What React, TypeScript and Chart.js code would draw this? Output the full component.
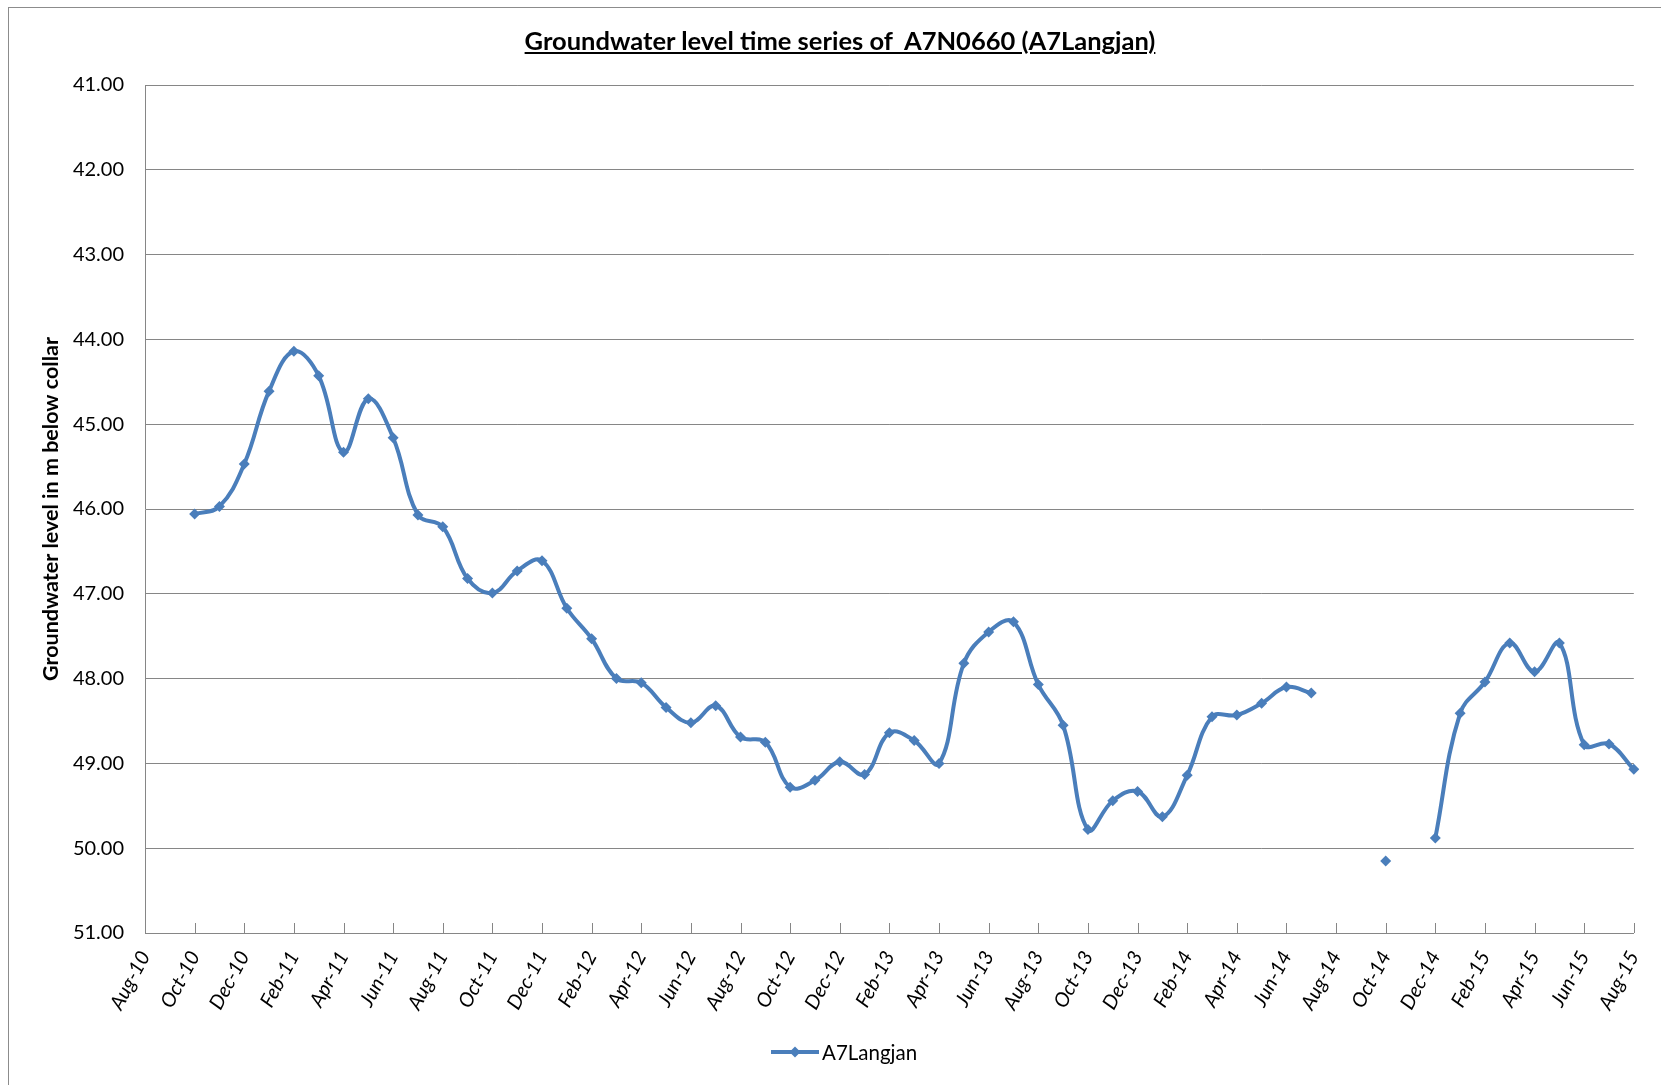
import React, { useEffect, useRef } from "react";
import { Chart, registerables } from "chart.js";

Chart.register(...registerables);

const months: string[] = [
  "Aug-10", "Sep-10", "Oct-10", "Nov-10", "Dec-10",
  "Jan-11", "Feb-11", "Mar-11", "Apr-11", "May-11", "Jun-11", "Jul-11", "Aug-11", "Sep-11", "Oct-11", "Nov-11", "Dec-11",
  "Jan-12", "Feb-12", "Mar-12", "Apr-12", "May-12", "Jun-12", "Jul-12", "Aug-12", "Sep-12", "Oct-12", "Nov-12", "Dec-12",
  "Jan-13", "Feb-13", "Mar-13", "Apr-13", "May-13", "Jun-13", "Jul-13", "Aug-13", "Sep-13", "Oct-13", "Nov-13", "Dec-13",
  "Jan-14", "Feb-14", "Mar-14", "Apr-14", "May-14", "Jun-14", "Jul-14", "Aug-14", "Sep-14", "Oct-14", "Nov-14", "Dec-14",
  "Jan-15", "Feb-15", "Mar-15", "Apr-15", "May-15", "Jun-15", "Jul-15", "Aug-15",
];

const levels2010: (number | null)[] = [null, null, 46.06, 45.97, 45.47];
const levels2011: (number | null)[] = [44.61, 44.14, 44.43, 45.33, 44.70, 45.16, 46.07, 46.21, 46.82, 46.99, 46.73, 46.61];
const levels2012: (number | null)[] = [47.17, 47.53, 48.00, 48.05, 48.34, 48.52, 48.32, 48.69, 48.75, 49.28, 49.20, 48.98];
const levels2013: (number | null)[] = [49.13, 48.64, 48.73, 49.00, 47.82, 47.45, 47.33, 48.07, 48.55, 49.78, 49.44, 49.33];
const levels2014: (number | null)[] = [49.63, 49.14, 48.45, 48.43, 48.29, 48.10, 48.17, null, null, 50.15, null, 49.88];
const levels2015: (number | null)[] = [48.41, 48.04, 47.58, 47.92, 47.58, 48.78, 48.77, 49.07];

const seriesName = "A7Langjan";
const titleText = "Groundwater level time series of  A7N0660 (A7Langjan)";
const yTitle = "Groundwater level in m below collar";
const yMin = 41;
const yMax = 51;

const LINE = "#4A7EBB";
const GRID = "#868686";
const FONT = "Lato, 'Open Sans', sans-serif";

export default function App() {
  const ref = useRef<HTMLCanvasElement | null>(null);

  useEffect(() => {
    if (!ref.current) return;
    const values = [...levels2010, ...levels2011, ...levels2012, ...levels2013, ...levels2014, ...levels2015];

    const inwardTicks = {
      id: "inwardTicks",
      afterDraw(chart: any) {
        const x = chart.scales.x;
        const ctx = chart.ctx;
        const b = chart.chartArea.bottom;
        ctx.save();
        ctx.strokeStyle = GRID;
        ctx.lineWidth = 1;
        x.ticks.forEach((t: any, i: number) => {
          if (t.value % 2 !== 0) return;
          const px = Math.round(x.getPixelForTick(i)) + 0.5;
          ctx.beginPath();
          ctx.moveTo(px, b);
          ctx.lineTo(px, b - 10);
          ctx.stroke();
        });
        ctx.restore();
      },
    };

    const chart = new Chart(ref.current, {
      type: "line",
      data: {
        labels: months,
        datasets: [
          {
            label: seriesName,
            data: values,
            borderColor: LINE,
            backgroundColor: LINE,
            borderWidth: 4,
            tension: 0.4,
            spanGaps: false,
            pointStyle: "rectRot",
            pointRadius: 5.5,
            pointBorderWidth: 0,
            pointBackgroundColor: LINE,
          },
        ],
      },
      options: {
        animation: false,
        responsive: false,
        maintainAspectRatio: false,
        layout: { padding: { left: 8, right: 27, top: 85, bottom: 0 } },
        plugins: {
          legend: { display: false },
          title: { display: false },
          tooltip: { enabled: false },
        },
        scales: {
          x: {
            type: "category",
            offset: false,
            grid: { display: false },
            border: { display: true, color: GRID, width: 1 },
            ticks: {
              autoSkip: false,
              maxRotation: 62,
              minRotation: 62,
              padding: 6,
              color: "#000",
              font: { family: FONT, size: 20, style: "italic" },
              callback: (v: any, i: number) => (i % 2 === 0 ? months[i] : null),
            },
            afterFit: (s: any) => {
              s.height = 152;
            },
          },
          y: {
            reverse: true,
            min: yMin,
            max: yMax,
            grid: { color: GRID, lineWidth: 1, drawTicks: false },
            border: { display: true, color: GRID, width: 1 },
            ticks: {
              stepSize: 1,
              padding: 21,
              color: "#000",
              font: { family: FONT, size: 20 },
              callback: (v: any) => Number(v).toFixed(2),
            },
            title: {
              display: true,
              text: yTitle,
              color: "#000",
              font: { family: FONT, size: 21.5, weight: "bold" },
              padding: { top: 30, bottom: 0 },
            },
            afterFit: (s: any) => {
              s.width = 137;
            },
          },
        },
      },
      plugins: [inwardTicks],
    });
    return () => chart.destroy();
  }, []);

  return (
    <div style={{ position: "fixed", left: 0, top: 0, width: 1661, height: 1085, background: "#fff", overflow: "hidden" }}>
      <div
        style={{
          position: "absolute",
          left: 8,
          top: 7,
          width: 1700,
          height: 1200,
          borderTop: "1px solid #8c8c8c",
          borderLeft: "1px solid #8c8c8c",
        }}
      />
      <canvas ref={ref} width={1661} height={1085} style={{ position: "absolute", left: 0, top: 0 }} />
      <div
        style={{
          position: "absolute",
          left: 0,
          width: 1680,
          top: 24,
          textAlign: "center",
          fontFamily: FONT,
          fontWeight: "bold",
          fontSize: 25.5,
          lineHeight: "32px",
          textDecoration: "underline",
          whiteSpace: "pre",
          color: "#000",
        }}
      >
        {titleText}
      </div>
      <div
        style={{
          position: "absolute",
          left: 771,
          top: 1040,
          display: "flex",
          alignItems: "center",
          fontFamily: FONT,
          fontSize: 20.5,
          color: "#000",
          whiteSpace: "pre",
        }}
      >
        <svg width={48} height={14} style={{ marginRight: 3 }}>
          <line x1={0} y1={7} x2={48} y2={7} stroke={LINE} strokeWidth={4} />
          <polygon points="24,1.5 29.5,7 24,12.5 18.5,7" fill={LINE} />
        </svg>
        <span>{seriesName}</span>
      </div>
    </div>
  );
}
